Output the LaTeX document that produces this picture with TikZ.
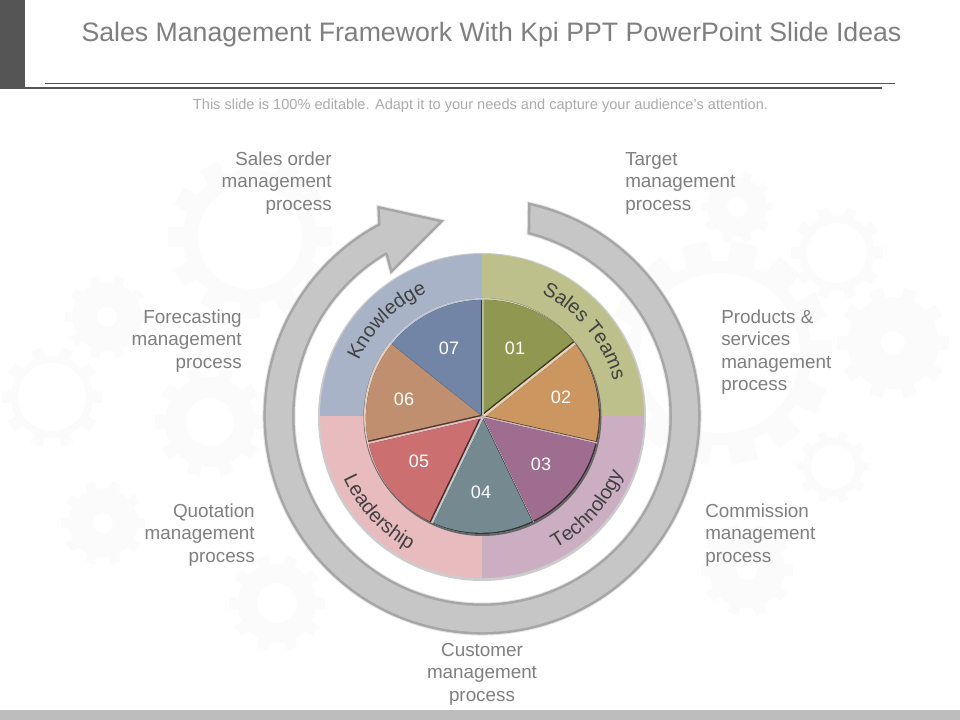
\documentclass[tikz,border=0pt]{standalone}
\usepackage{fontspec}
\usetikzlibrary{decorations.text}
\setmainfont{Liberation Sans}
\definecolor{headgray}{HTML}{555555}
\definecolor{textgray}{HTML}{7F7F7F}
\definecolor{subgray}{HTML}{ABABAB}
\definecolor{ringgray}{HTML}{C6C6C6}
\definecolor{ringedge}{HTML}{A6A6A6}
\definecolor{barrgray}{HTML}{BDBDBD}
\definecolor{gearfill}{HTML}{FBFBFB}
\definecolor{bandone}{HTML}{BDC08A}
\definecolor{bandtwo}{HTML}{CBAEC2}
\definecolor{bandthree}{HTML}{E8BCBE}
\definecolor{bandfour}{HTML}{A8B3C8}
\definecolor{sliceone}{HTML}{8F9750}
\definecolor{slicetwo}{HTML}{CC9660}
\definecolor{slicethree}{HTML}{9E6D8F}
\definecolor{slicefour}{HTML}{748A90}
\definecolor{slicefive}{HTML}{CC6F70}
\definecolor{slicesix}{HTML}{C08F70}
\definecolor{sliceseven}{HTML}{7385A6}
\tikzset{
  steplabel/.style={text=textgray,font=\fontsize{13.4}{16}\selectfont,inner sep=0pt,align=#1},
  numlabel/.style={text=white,font=\fontsize{12.8}{15}\selectfont,inner sep=0pt},
  bandlabel/.style={decoration={text along path,text align=center,text={|\fontsize{14.2}{16}\selectfont\color{black!75}|#1}},postaction={decorate}}
}
% one bevelled slice: start angle, end angle, colour
\newcommand{\pieslice}[3]{
  \def\slicepath{(0,0) -- (#1:118) arc (#1:#2:118) -- cycle}
  \begin{scope}
    \clip \slicepath;
    \fill[#3!45!white] (0,0) circle (125);
    \begin{scope}[shift={(1.9,-1.9)}]
      \clip \slicepath;
      \fill[#3!40!black] (0,0) circle (125);
    \end{scope}
    \clip[shift={(1.9,-1.9)}] \slicepath;
    \clip[shift={(-1.2,1.2)}] \slicepath;
    \fill[#3] (0,0) circle (125);
  \end{scope}
}
% faint gear: x, y, radius, teeth, hole
\newcommand{\geardraw}[5]{
  \begin{scope}[shift={(#1,#2)}]
    \fill[gearfill] (0,0) circle (#3*0.82);
    \foreach \t in {1,...,#4}
      \fill[gearfill,rotate=\t*360/#4] (#3*0.75,-#3*0.12) rectangle (#3,#3*0.12);
    \fill[white] (0,0) circle (#5);
  \end{scope}
}
\begin{document}
\begin{tikzpicture}[x=0.025cm,y=0.025cm]
  \useasboundingbox (0,0) rectangle (960,720);
  \fill[white] (0,0) rectangle (960,720);
  % gears behind everything
  \foreach \gx/\gy/\gr/\gn/\gh in {250/483/82/12/52, 107/403/42/10/10, 52/323/50/10/34,
      210/298/55/10/24, 103/197/42/10/10, 277/117/48/10/20, 720/367/112/14/80,
      837/467/46/10/30, 893/377/56/10/12, 833/253/36/10/22, 747/150/46/10/10,
      737/513/36/10/10}
    \geardraw{\gx}{\gy}{\gr}{\gn}{\gh};
  % header
  \fill[headgray] (0,632) rectangle (25,720);
  \fill[headgray] (0,630.5) rectangle (882,633);
  \draw[headgray,line width=0.5pt] (45,637) -- (895,637);
  \fill[barrgray] (0,0) rectangle (960,10);
  \node[text=textgray,font=\fontsize{18.97}{22}\selectfont,inner sep=0pt] (title) at (491.5,685.5) {Sales Management Framework With Kpi PPT PowerPoint Slide Ideas};
  \node[text=subgray,font=\fontsize{10.37}{12}\selectfont,inner sep=0pt] (subtitle) at (480.5,614.5) {This slide is 100\% editable. Adapt it to your needs and capture your audience's attention.};
  % labels round the ring
  \node[steplabel=right,anchor=east] (salesorder) at (332,537) {Sales order\\management\\process};
  \node[steplabel=right,anchor=east] (forecasting) at (242,379) {Forecasting\\management\\process};
  \node[steplabel=right,anchor=east] (quotation) at (255,185) {Quotation\\management\\process};
  \node[steplabel=center] (customer) at (482,46) {Customer\\management\\process};
  \node[steplabel=left,anchor=west] (commission) at (705,185) {Commission\\management\\process};
  \node[steplabel=left,anchor=west] (products) at (721,368) {Products \&\\services\\management\\process};
  \node[steplabel=left,anchor=west] (target) at (625,537) {Target\\management\\process};
  \begin{scope}[shift={(482,304)}]
    % ring arrow
    \def\ringpath{(77:216) arc (77:-242:216) -- (-102,207) -- (-43,194) -- (-90,147) -- (-94,162) -- (120.3:190) arc (120.3:435.3:190) -- cycle}
    \draw[black!10,line width=5pt,line join=miter] \ringpath;
    \draw[ringedge,line width=3.6pt,line join=miter] \ringpath;
    \fill[ringgray] \ringpath;
    % quarter bands
    \fill[black!20] (0,-1) circle (164);
    \fill[bandone] (0,0) -- (0:162) arc (0:90:162) -- cycle;
    \fill[bandtwo] (0,0) -- (-90:162) arc (-90:0:162) -- cycle;
    \fill[bandthree] (0,0) -- (180:162) arc (180:270:162) -- cycle;
    \fill[bandfour] (0,0) -- (90:162) arc (90:180:162) -- cycle;
    \path[bandlabel={Knowledge}] (158.5:135) arc (158.5:111.5:135);
    \path[bandlabel={Sales Teams}] (67:136) arc (67:12:136);
    \path[bandlabel={Leadership}] (199:152) arc (199:247:152);
    \path[bandlabel={Technology}] (-66:152) arc (-66:-17:152);
    % pie
    \fill[black!60] (0.5,-1) circle (119);
    \foreach \from/\to/\col in {90/38.57/sliceone, 38.57/-12.86/slicetwo, -12.86/-64.29/slicethree,
        -64.29/-115.71/slicefour, -115.71/-167.14/slicefive, -167.14/-218.57/slicesix, -218.57/-270/sliceseven}
      \pieslice{\from}{\to}{\col};
  \end{scope}
  \node[numlabel] (n01) at (515,372) {01};
  \node[numlabel] (n02) at (561,323) {02};
  \node[numlabel] (n03) at (541,256) {03};
  \node[numlabel] (n04) at (481,228) {04};
  \node[numlabel] (n05) at (419,259) {05};
  \node[numlabel] (n06) at (404,321) {06};
  \node[numlabel] (n07) at (449,372) {07};
\end{tikzpicture}
\end{document}
